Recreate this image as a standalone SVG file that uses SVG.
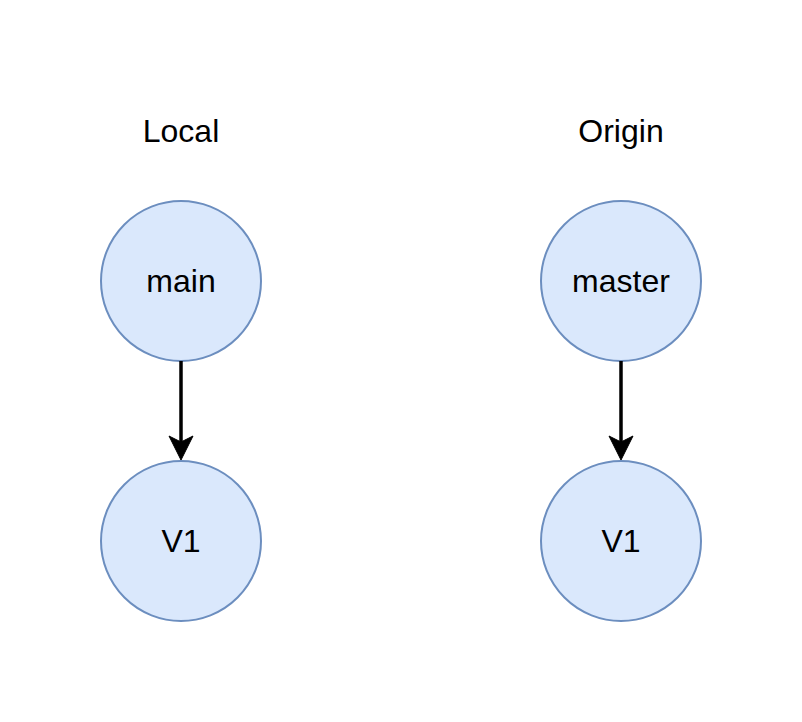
<svg xmlns="http://www.w3.org/2000/svg" width="802" height="722" viewBox="0 0 802 722">
<style>
.n{fill:#dae8fc;stroke:#6c8ebf;stroke-width:2}
text{font-family:"Liberation Sans",Arial,sans-serif;font-size:32px;fill:#000;text-anchor:middle}
.e{stroke:#000;stroke-width:3.5;fill:none}
.h{fill:#000;stroke:#000;stroke-width:1}
</style>
<rect width="802" height="722" fill="#fff"/>
<g id="label-local"><text x="181" y="142">Local</text></g>
<g id="label-origin"><text x="621" y="142">Origin</text></g>
<g id="node-main"><circle class="n" cx="181" cy="281" r="80"/><text x="181" y="292">main</text></g>
<g id="node-v1-local"><circle class="n" cx="181" cy="541" r="80"/><text x="181" y="552">V1</text></g>
<g id="node-master"><circle class="n" cx="621" cy="281" r="80"/><text x="621" y="292">master</text></g>
<g id="node-v1-origin"><circle class="n" cx="621" cy="541" r="80"/><text x="621" y="552">V1</text></g>
<g id="connectors">
<path class="e" d="M181 361V444"/>
<path class="h" d="M181 460L169 436L181 442L193 436Z"/>
<path class="e" d="M621 361V444"/>
<path class="h" d="M621 460L609 436L621 442L633 436Z"/>
</g>
</svg>
